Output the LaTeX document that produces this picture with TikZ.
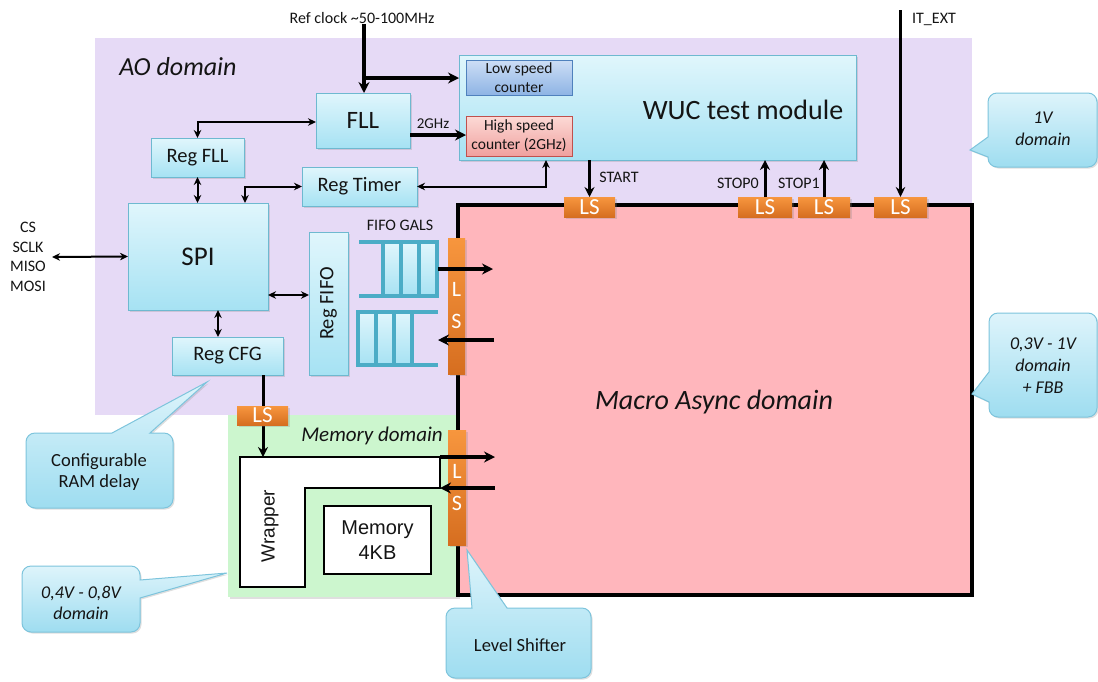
\documentclass[tikz,border=0pt]{standalone}
\usepackage{fontspec}
\usepackage{graphicx}
\setmainfont{Carlito}
\newfontfamily\arialf{Liberation Sans}
\usetikzlibrary{arrows.meta,shadows}
\definecolor{aoPurple}{RGB}{230,218,246}
\definecolor{memGreen}{RGB}{204,246,206}
\definecolor{asyncPink}{RGB}{255,182,188}
\definecolor{boxTop}{RGB}{224,246,252}
\definecolor{boxBot}{RGB}{166,226,243}
\definecolor{boxLine}{RGB}{110,185,208}
\definecolor{lsTop}{RGB}{247,150,62}
\definecolor{lsBot}{RGB}{214,110,32}
\definecolor{fifoTeal}{RGB}{75,172,198}
\definecolor{lowTop}{RGB}{205,222,246}
\definecolor{lowBot}{RGB}{142,180,228}
\definecolor{lowLine}{RGB}{79,129,189}
\definecolor{hiTop}{RGB}{252,218,214}
\definecolor{hiBot}{RGB}{240,160,158}
\definecolor{hiLine}{RGB}{192,80,77}
\definecolor{coTop}{RGB}{222,244,251}
\definecolor{coBot}{RGB}{158,221,240}
\definecolor{coLine}{RGB}{125,196,220}
\definecolor{txt}{RGB}{20,20,20}
\newcommand{\myfs}[2]{\fontsize{#1}{#2}\selectfont}
\begin{document}
\begin{tikzpicture}[x=1pt,y=-1pt,
  shad/.style={drop shadow={opacity=0.25,shadow xshift=1.5pt,shadow yshift=-1.5pt}},
  blbox/.style={draw=boxLine, line width=0.8pt, top color=boxTop, bottom color=boxBot, inner sep=0pt, outer sep=0pt, text=txt, shad},
  lowbox/.style={draw=lowLine, line width=0.8pt, top color=lowTop, bottom color=lowBot, inner sep=0pt, outer sep=0pt, text=txt, align=center},
  hibox/.style={draw=hiLine, line width=0.8pt, top color=hiTop, bottom color=hiBot, inner sep=0pt, outer sep=0pt, text=txt, align=center},
  lsbox/.style={top color=lsTop, bottom color=lsBot, draw=none, inner sep=0pt, outer sep=0pt, text=white, font=\myfs{23}{26}, shad},
  lsbar/.style={top color=lsTop, bottom color=lsBot, draw=none, inner sep=0pt, outer sep=0pt, text=white, font=\myfs{22}{32}, align=center, shad},
  cell/.style={draw=fifoTeal, line width=3.2pt, top color=boxTop, bottom color=boxBot},
  fifoline/.style={draw=fifoTeal, line width=4pt},
  regarrow/.style={line width=2pt, {Stealth[length=8pt,width=7.5pt]}-{Stealth[length=8pt,width=7.5pt]}},
  bigarrow/.style={line width=3.6pt, -{Stealth[length=11pt,width=11pt]}},
  sigarrow/.style={line width=3pt, -{Stealth[length=10pt,width=10pt]}},
  itarrow/.style={line width=2.6pt, -{Stealth[length=10pt,width=9.5pt]}},
  callst/.style={draw=coLine, line width=1pt, top color=coTop, bottom color=coBot, shad},
  lbl/.style={text=txt, inner sep=0pt}
]
\useasboundingbox (0,0) rectangle (1098,681);
% domains
\fill[aoPurple] (95,38) rectangle (972,415);
\fill[memGreen, shad] (228,415) rectangle (458,597);
\filldraw[fill=asyncPink, draw=black, line width=4.5pt] (458,205) rectangle (972,595);
\node[lbl, font=\itshape\myfs{26}{31}] (aotxt) at (178,67) {AO domain};
\node[lbl, font=\itshape\myfs{21}{25}] (memtxt) at (372,436) {Memory domain};
\node[lbl, font=\itshape\myfs{28}{33}] (asynctxt) at (714,402) {Macro Async domain};

% WUC test module
\node[blbox, minimum width=397pt, minimum height=105pt] (wuc) at (657.5,107.5) {};
\node[lbl, font=\myfs{28}{33}] (wuctxt) at (743,110) {WUC test module};
\node[lowbox, minimum width=106pt, minimum height=35pt, font=\myfs{15.5}{19}] (lsc) at (519,77.5) {Low speed\\counter};
\node[hibox, minimum width=106pt, minimum height=40pt, font=\myfs{15.5}{19}] (hsc) at (519,136) {High speed\\counter (2GHz)};

% AO blocks
\node[blbox, minimum width=94pt, minimum height=55pt, font=\myfs{25}{29}] (fll) at (363,120.5) {FLL};
\node[blbox, minimum width=93pt, minimum height=39pt, font=\myfs{20.5}{24}] (regfll) at (197.5,157.5) {Reg FLL};
\node[blbox, minimum width=115pt, minimum height=39pt, font=\myfs{20.5}{24}] (regtimer) at (359.5,186.5) {Reg Timer};
\node[blbox, minimum width=140pt, minimum height=107pt, font=\myfs{27}{31}] (spi) at (198,256.5) {SPI};
\node[blbox, minimum width=39pt, minimum height=143pt, font=\myfs{20.5}{24}] (regfifo) at (328.5,303.5) {\rotatebox{90}{Reg FIFO}};
\node[blbox, minimum width=111pt, minimum height=38pt, font=\myfs{20.5}{24}] (regcfg) at (227.5,356) {Reg CFG};

% reference clock and 2GHz
\node[lbl, font=\myfs{16}{19}] (refclk) at (362,18) {Ref clock \textasciitilde50-100MHz};
\coordinate (rcbr) at (364,78);
\draw[bigarrow] (refclk.south -| rcbr) -- (rcbr |- fll.north);
\draw[bigarrow] (rcbr) -- (rcbr -| wuc.west);
\coordinate (g2) at (410,135);
\draw[bigarrow] (g2 -| fll.east) -- (g2 -| hsc.west);
\node[lbl, font=\myfs{15}{18}] (ghz) at (433,124) {2GHz};

% register connectors
\coordinate (rf) at (198,122);
\draw[regarrow] (regfll.north) |- (rf -| fll.west);
\draw[regarrow] (regfll.south) -- (regfll.south |- spi.north);
\coordinate (st) at ([xshift=47pt]spi.north);
\draw[regarrow] (st) |- (regtimer.west);
\coordinate (wt) at ([xshift=-111.5pt]wuc.south);
\draw[regarrow] (wt) |- (regtimer.east);
\coordinate (sf) at ([yshift=-38.5pt]spi.east);
\draw[regarrow] (sf) -- (sf -| regfifo.west);
\coordinate (sc) at ([xshift=20pt]spi.south);
\draw[regarrow] (sc) -- (sc |- regcfg.north);
\node[lbl, font=\myfs{16}{19.7}, align=center] (cs) at (28,257) {CS\\SCLK\\MISO\\MOSI};
\draw[regarrow] ([xshift=6pt]cs.east) -- (spi.west);

% FIFO GALS
\node[lbl, font=\myfs{16}{19}] (fifotxt) at (400,225) {FIFO GALS};
\foreach \a/\b in {383/401,401/419,419/437} \path[cell] (\a,242) rectangle (\b,296);
\draw[fifoline] (359,242) -- (439,242) (359,296) -- (439,296);
\foreach \a/\b in {358/376,376/394,394/412} \path[cell] (\a,312) rectangle (\b,365);
\draw[fifoline] (357,312) -- (438,312) (357,365) -- (438,365);

% memory domain content
\filldraw[fill=white, draw=black, line width=1.4pt] (240,457) -- (440,457) -- (440,488) -- (305,488) -- (305,587) -- (240,587) -- cycle;
\node[lbl, rotate=90, font=\arialf\myfs{19}{22}] (wraptxt) at (270,526) {Wrapper};
\node[draw=black, line width=1.4pt, fill=white, minimum width=107pt, minimum height=68pt, inner sep=0pt, align=center, text=txt, font=\arialf\myfs{20}{25}] (mem) at (377.5,540) {Memory\\4KB};
\coordinate (cm) at ([xshift=35.5pt]regcfg.south);
\coordinate (wrtop) at (263,457);
\draw[sigarrow] (cm) -- (wrtop);
\node[lsbox, minimum width=51pt, minimum height=19pt] (lsm) at (262.5,415.5) {LS};

% level shifters on the async border
\node[lsbar, minimum width=17pt, minimum height=136pt] (lsv1) at (456.5,306) {L\\S};
\node[lsbar, minimum width=18pt, minimum height=115pt] (lsv2) at (457,487.5) {L\\S};
\node[lsbox, minimum width=51pt, minimum height=20pt] (ls1) at (589.5,207) {LS};
\node[lsbox, minimum width=54pt, minimum height=20pt] (ls2) at (765,207) {LS};
\node[lsbox, minimum width=52pt, minimum height=20pt] (ls3) at (824,207) {LS};
\node[lsbox, minimum width=53pt, minimum height=20pt] (ls4) at (900.5,207) {LS};

% crossing arrows
\coordinate (f1) at (438,269); \coordinate (p1) at (493,269);
\draw[bigarrow] (f1) -- (p1);
\coordinate (f2) at (438,340); \coordinate (p2) at (494,340);
\draw[bigarrow] (p2) -- (f2);
\coordinate (m1) at (440,457); \coordinate (q1) at (495,457);
\draw[bigarrow] (m1) -- (q1);
\coordinate (m2) at (440,488); \coordinate (q2) at (495,488);
\draw[bigarrow] (q2) -- (m2);
\draw[sigarrow] (ls1.north |- wuc.south) -- (ls1.north);
\draw[sigarrow] (ls2.north) -- (ls2.north |- wuc.south);
\draw[sigarrow] (ls3.north) -- (ls3.north |- wuc.south);
\coordinate (itx) at (900,10);
\draw[itarrow] (itx -| ls4.north) -- (ls4.north);
\node[lbl, font=\myfs{16}{19}] (startl) at (619,177) {START};
\node[lbl, font=\myfs{16}{19}] (stop0l) at (738,183) {STOP0};
\node[lbl, font=\myfs{16}{19}] (stop1l) at (799,183) {STOP1};
\node[lbl, font=\myfs{16}{19}] (itextl) at (934,19) {IT\_EXT};

% callouts
\path[callst, rounded corners=9pt] (1040,93) -- (1097,93) -- (1097,167) -- (988,167) [sharp corners] -- (988,157) -- (970,150) -- (988,137) [rounded corners=9pt] -- (988,93) -- cycle;
\node[lbl, font=\itshape\myfs{18}{22}, align=center] (c1) at (1043,129) {1V\\domain};
\path[callst, rounded corners=9pt] (1043,313) -- (1097,313) -- (1097,417) -- (989,417) [sharp corners] -- (989,402) -- (972,394) -- (989,372) [rounded corners=9pt] -- (989,313) -- cycle;
\node[lbl, font=\itshape\myfs{18}{22}, align=center] (c2) at (1043,366) {0,3V - 1V\\domain\\+ FBB};
\path[callst, rounded corners=9pt] (100,508) -- (26,508) -- (26,433) [sharp corners] -- (112,433) -- (207,382) -- (150,433) [rounded corners=9pt] -- (173,433) -- (173,508) -- cycle;
\node[lbl, font=\myfs{18.5}{21}, align=center] (c3) at (99,472) {Configurable\\RAM delay};
\path[callst, rounded corners=9pt] (80,566) -- (140,566) [sharp corners] -- (140,580) -- (227,573) -- (140,598) [rounded corners=9pt] -- (140,632) -- (22,632) -- (22,566) -- cycle;
\node[lbl, font=\itshape\myfs{18}{21}, align=center] (c4) at (81,603) {0,4V - 0,8V\\domain};
\path[callst, rounded corners=9pt] (520,678) -- (446,678) -- (446,608) [sharp corners] -- (472,608) -- (467,550) -- (507,608) [rounded corners=9pt] -- (591,608) -- (591,678) -- cycle;
\node[lbl, font=\myfs{18.5}{21}] (c5) at (520,645) {Level Shifter};
\end{tikzpicture}
\end{document}
